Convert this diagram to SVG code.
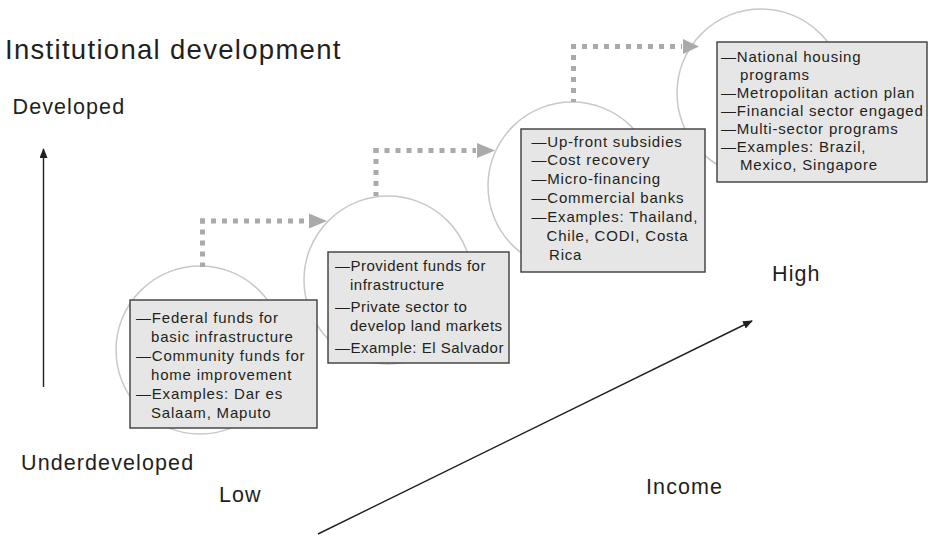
<svg xmlns="http://www.w3.org/2000/svg" width="929" height="536" viewBox="0 0 929 536">
<defs>
<marker id="ah" viewBox="0 0 10 8" refX="9" refY="4" markerWidth="10" markerHeight="8" markerUnits="userSpaceOnUse" orient="auto">
<path d="M0,0 L10,4 L0,8 Z" fill="#231f20"/>
</marker>
</defs>
<style>
text{font-family:"Liberation Sans",Arial,sans-serif;fill:#231f20}
.lbl{font-size:21.5px;letter-spacing:1.1px}
.title{font-size:27.5px;letter-spacing:1.3px}
.bt{font-size:15px;letter-spacing:0.8px}
.bt2{font-size:15px;letter-spacing:0.5px}
.circ{fill:none;stroke:#c8c8c8;stroke-width:1.5}
.box{fill:#e6e6e6;stroke:#3c3c3c;stroke-width:1.4}
.dot{fill:none;stroke:#aaaaaa;stroke-width:5;stroke-dasharray:5 6}
.head{fill:#aaaaaa}
.axis{fill:none;stroke:#231f20;stroke-width:1.4}
</style>
<rect width="929" height="536" fill="#ffffff"/>
<g id="labels">
<text class="title" x="5" y="59">Institutional development</text>
<text class="lbl" x="12.5" y="114">Developed</text>
<text class="lbl" x="21" y="470">Underdeveloped</text>
<text class="lbl" x="219" y="502">Low</text>
<text class="lbl" x="646" y="493.5">Income</text>
<text class="lbl" x="772" y="281">High</text>
</g>
<g id="axes">
<line class="axis" x1="43.5" y1="387" x2="43.5" y2="149" marker-end="url(#ah)"/>
<line class="axis" x1="318" y1="534" x2="752" y2="321" marker-end="url(#ah)"/>
</g>
<g id="circles">
<circle class="circ" cx="200" cy="350" r="84"/>
<circle class="circ" cx="388" cy="280" r="84"/>
<circle class="circ" cx="572" cy="186" r="84"/>
<circle class="circ" cx="761" cy="93" r="84"/>
</g>
<g id="connectors">
<path class="dot" d="M202.5,218.5 V267"/>
<path class="dot" d="M200,221 H308"/>
<polygon class="head" points="309,213.5 327,221 309,228.5"/>
<path class="dot" d="M376,148 V196"/>
<path class="dot" d="M373.5,150.5 H476"/>
<polygon class="head" points="477,143 495,150.5 477,158"/>
<path class="dot" d="M573.5,44 V102"/>
<path class="dot" d="M571,46.5 H682"/>
<polygon class="head" points="683,39 699,46.5 683,54"/>
</g>
<g id="stage1">
<rect class="box" x="130" y="300" width="187" height="128"/>
<text class="bt" x="136" y="323">—Federal funds for</text>
<text class="bt" x="151" y="342">basic infrastructure</text>
<text class="bt" x="136" y="361">—Community funds for</text>
<text class="bt" x="151" y="380">home improvement</text>
<text class="bt" x="136" y="399">—Examples: Dar es</text>
<text class="bt" x="151" y="418">Salaam, Maputo</text>
</g>
<g id="stage2">
<rect class="box" x="328" y="252" width="181" height="111"/>
<text class="bt2" x="335" y="270.5">—Provident funds for</text>
<text class="bt2" x="350" y="289.5">infrastructure</text>
<text class="bt2" x="335" y="311.5">—Private sector to</text>
<text class="bt2" x="350" y="330.5">develop land markets</text>
<text class="bt2" x="335" y="352.5">—Example: El Salvador</text>
</g>
<g id="stage3">
<rect class="box" x="521" y="129" width="184" height="143"/>
<text class="bt" x="531.5" y="146.5">—Up-front subsidies</text>
<text class="bt" x="531.5" y="165.4">—Cost recovery</text>
<text class="bt" x="531.5" y="184.3">—Micro-financing</text>
<text class="bt" x="531.5" y="203.2">—Commercial banks</text>
<text class="bt" x="531.5" y="222.1">—Examples: Thailand,</text>
<text class="bt" x="546.5" y="241">Chile, CODI, Costa</text>
<text class="bt" x="549" y="259.9">Rica</text>
</g>
<g id="stage4">
<rect class="box" x="717" y="42" width="210" height="140"/>
<text class="bt" x="721" y="61.5">—National housing</text>
<text class="bt" x="740" y="79.6">programs</text>
<text class="bt" x="721" y="97.7">—Metropolitan action plan</text>
<text class="bt" x="721" y="115.8">—Financial sector engaged</text>
<text class="bt" x="721" y="133.9">—Multi-sector programs</text>
<text class="bt" x="721" y="152">—Examples: Brazil,</text>
<text class="bt" x="740" y="170.1">Mexico, Singapore</text>
</g>
</svg>
